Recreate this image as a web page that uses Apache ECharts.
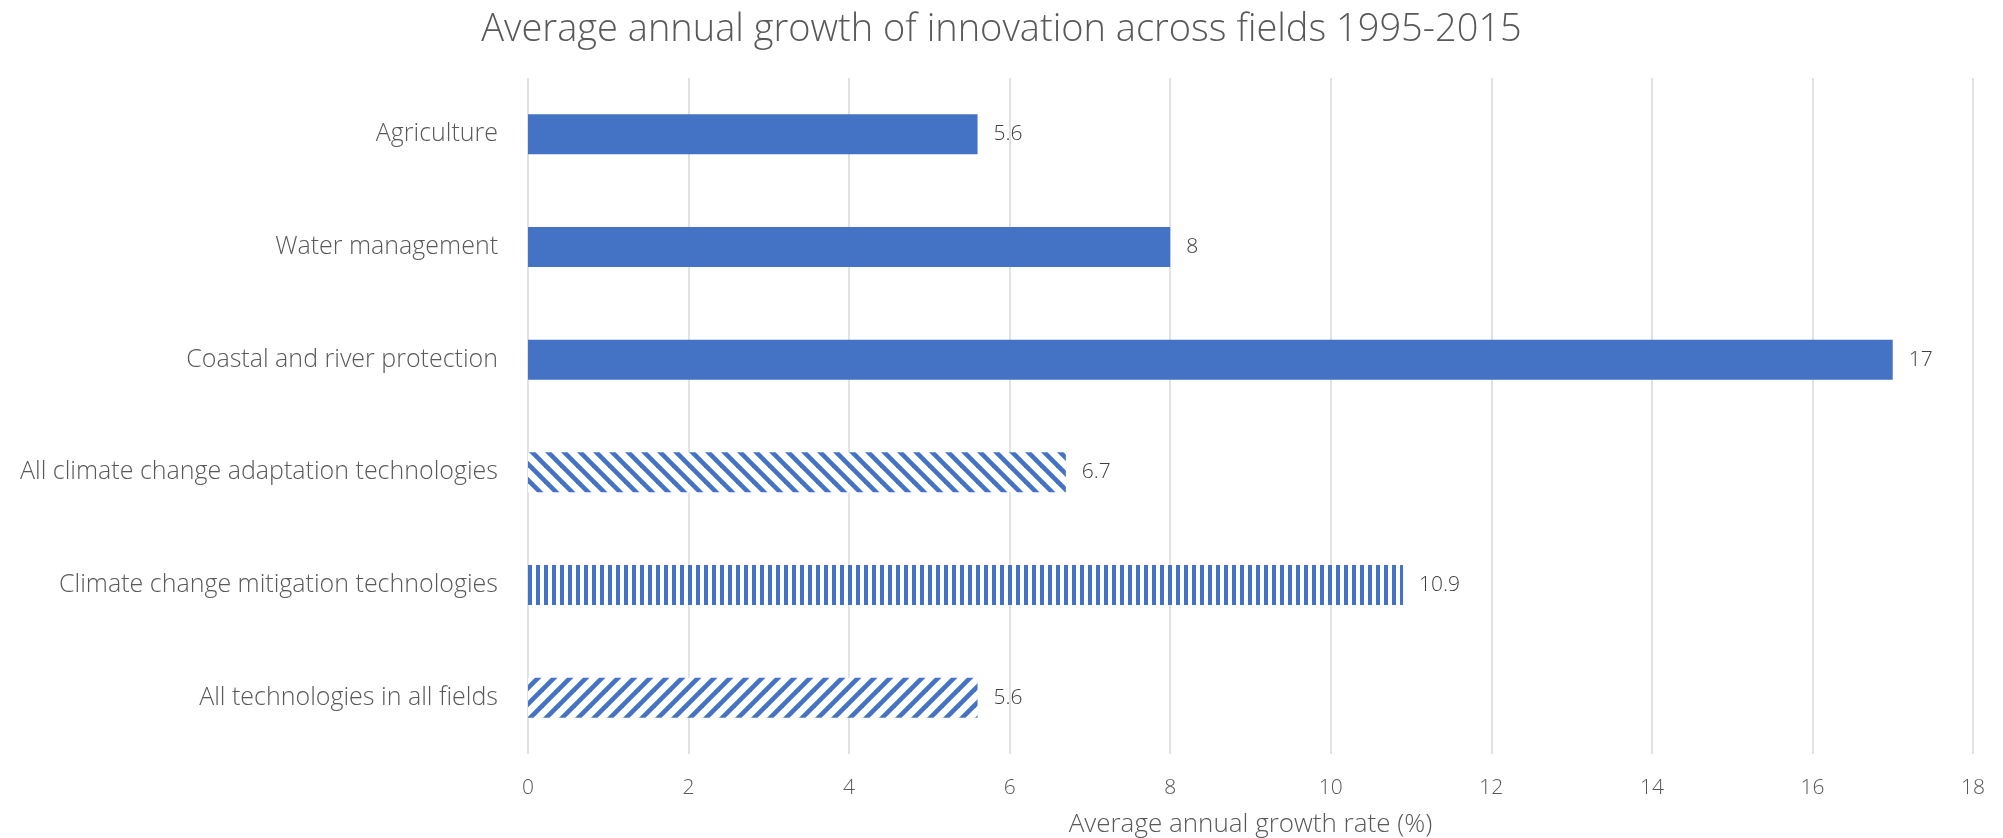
<!DOCTYPE html>
<html>
<head>
<meta charset="utf-8">
<script src="https://cdn.jsdelivr.net/npm/echarts@6/dist/echarts.min.js"></script>
<style>
html,body{margin:0;padding:0;background:#fff;}
#chart{width:2003px;height:838px;}
</style>
</head>
<body>
<div id="chart"></div>
<script>
const categories = [
  "Agriculture",
  "Water management",
  "Coastal and river protection",
  "All climate change adaptation technologies",
  "Climate change mitigation technologies",
  "All technologies in all fields"
];
const values = [5.6, 8, 17, 6.7, 10.9, 5.6];
const fillKinds = ["solid", "solid", "solid", "backslash", "vertical", "slash"];
const xTicks = [0, 2, 4, 6, 8, 10, 12, 14, 16, 18];

const BLUE = "#4472C4";
const FONT = "'Open Sans', Lato, sans-serif";

function makePattern(kind) {
  const c = document.createElement("canvas");
  if (kind === "vertical") {
    c.width = 8; c.height = 8;
    const g = c.getContext("2d");
    g.fillStyle = "#fff"; g.fillRect(0, 0, 8, 8);
    g.fillStyle = BLUE; g.fillRect(0, 0, 4, 8);
    return c;
  }
  const s = 16;
  c.width = s; c.height = s;
  const g = c.getContext("2d");
  g.fillStyle = "#fff"; g.fillRect(0, 0, s, s);
  g.strokeStyle = BLUE; g.lineWidth = 4.6;
  for (let k = -1; k <= 1; k++) {
    g.beginPath();
    if (kind === "backslash") {
      g.moveTo(k * s - 2, -2); g.lineTo(k * s + s + 2, s + 2);
    } else {
      g.moveTo(k * s - 2, s + 2); g.lineTo(k * s + s + 2, -2);
    }
    g.stroke();
  }
  return c;
}

const seriesData = values.map((v, i) => {
  const kind = fillKinds[i];
  const color = kind === "solid" ? BLUE : { image: makePattern(kind), repeat: "repeat" };
  return { value: v, itemStyle: { color: color } };
});

const chart = echarts.init(document.getElementById("chart"), null, { renderer: "canvas" });
chart.setOption({
  animation: false,
  backgroundColor: "#fff",
  title: {
    text: "Average annual growth of innovation across fields 1995-2015",
    left: "center",
    top: 6,
    textStyle: { fontFamily: FONT, fontSize: 38, fontWeight: 300, color: "#595959" }
  },
  grid: { left: 528, right: 30, top: 78, bottom: 84, containLabel: false, outerBoundsMode: "none" },
  xAxis: {
    type: "value",
    min: 0, max: 18, interval: 2,
    name: "Average annual growth rate (%)",
    nameLocation: "middle",
    nameGap: 58,
    nameTextStyle: { fontFamily: FONT, fontSize: 26, fontWeight: 300, color: "#595959" },
    axisLine: { show: false },
    axisTick: { show: false },
    axisLabel: {
      fontFamily: FONT, fontSize: 21, fontWeight: 300, color: "#595959", margin: 24,
      formatter: v => xTicks.includes(v) ? String(v) : ""
    },
    splitLine: { show: true, lineStyle: { color: "#d9d9d9", width: 1.5 } }
  },
  yAxis: {
    type: "category",
    data: categories,
    inverse: true,
    axisLine: { show: false },
    axisTick: { show: false },
    axisLabel: { fontFamily: FONT, fontSize: 25, fontWeight: 300, color: "#595959", margin: 30 },
    splitLine: { show: false }
  },
  series: [{
    type: "bar",
    data: seriesData,
    barWidth: 40,
    label: {
      show: true, position: "right", distance: 16,
      fontFamily: FONT, fontSize: 21, fontWeight: 300, color: "#404040"
    }
  }]
});
</script>
</body>
</html>
